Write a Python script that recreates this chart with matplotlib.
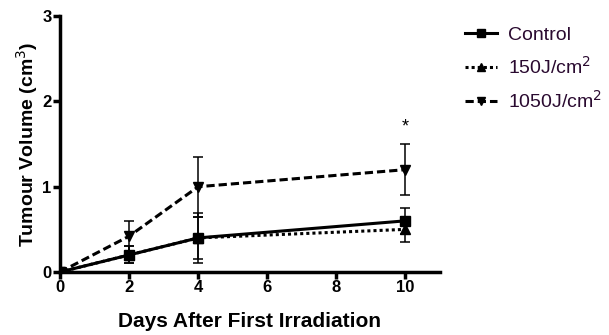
import matplotlib
matplotlib.use("Agg")
import matplotlib.pyplot as plt
from matplotlib.lines import Line2D

plt.rcParams['font.family'] = ['Liberation Sans', 'DejaVu Sans']

days = [0, 2, 4, 10]
control = [0.0, 0.2, 0.4, 0.6]
control_err = [0.0, 0.1, 0.29, 0.15]
j150 = [0.0, 0.2, 0.4, 0.5]
j150_err = [0.0, 0.1, 0.25, 0.15]
j1050 = [0.0, 0.42, 1.0, 1.2]
j1050_err = [0.0, 0.18, 0.35, 0.3]
labels = ['Control', '150J/cm$^2$', '1050J/cm$^2$']

fig = plt.figure(figsize=(6.09, 3.35), dpi=100)
ax = fig.add_axes([0.0985, 0.188, 0.624, 0.764])

styles = [('s', '-'), ('^', (0, (1, 1))), ('v', (0, (2.7, 1.3)))]
series = [(control, control_err), (j150, j150_err), (j1050, j1050_err)]
handles = []
for (vals, err), (m, ls), lab in zip(series, styles, labels):
    ax.errorbar(days, vals, yerr=err, marker=m, ls=ls, color='black', lw=2.2, ms=7,
                capsize=3.6, elinewidth=1.1, capthick=1.1)
    handles.append(Line2D([], [], color='black', lw=2.2, ls=ls, marker=m, ms=6))

ax.text(10, 1.7, '*', ha='center', va='center', fontsize=13)

ax.set_xlim(0, 11)
ax.set_ylim(0, 3)
ax.set_xticks([0, 2, 4, 6, 8, 10])
ax.set_yticks([0, 1, 2, 3])
for s in ['top', 'right']:
    ax.spines[s].set_visible(False)
for s in ['left', 'bottom']:
    ax.spines[s].set_linewidth(2.5)
ax.tick_params(width=2.5, length=5, labelsize=12, pad=1)
for lab in ax.get_xticklabels() + ax.get_yticklabels():
    lab.set_fontweight('bold')

ax.set_xlabel('Days After First Irradiation', fontsize=15, fontweight='bold', labelpad=12)
ax.set_ylabel('Tumour Volume (cm$^3$)', fontsize=14, fontweight='bold', labelpad=2)

leg = ax.legend(handles, labels, loc='upper left', bbox_to_anchor=(1.066, 0.96), frameon=False,
                fontsize=14, handlelength=1.65, handletextpad=0.55, labelspacing=0.62,
                borderaxespad=0, borderpad=0)
for t in leg.get_texts():
    t.set_color('#2a0a30')

fig.savefig('out.png', dpi=100)
